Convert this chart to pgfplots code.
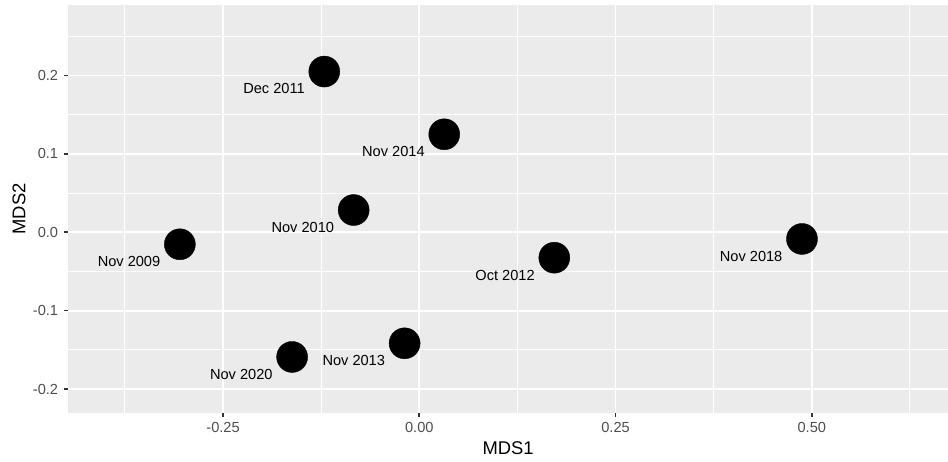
\documentclass[border=0pt]{standalone}
\usepackage{pgfplots}
\pgfplotsset{compat=1.18}
\usepackage{fontspec}
\setmainfont{Liberation Sans}
\definecolor{panel}{HTML}{EBEBEB}
\definecolor{ticklab}{HTML}{4D4D4D}
\definecolor{tickcol}{HTML}{333333}
\begin{document}
\begin{tikzpicture}
\useasboundingbox (0,0) rectangle (948bp,462bp);
\begin{axis}[
  at={(68.3bp,49.3bp)}, anchor=south west,
  scale only axis, width=879.7bp, height=407.7bp,
  xmin=-0.4471, xmax=0.6735, ymin=-0.2301, ymax=0.2899,
  axis background/.style={fill=panel},
  axis line style={draw=none},
  tick pos=left, tick align=outside,
  major tick length=4.5bp, minor tick length=0pt,
  major tick style={draw=tickcol, line width=1.6bp},
  minor tick style={draw=none},
  xtick={-0.25,0,0.25,0.5},
  xticklabels={-0.25,0.00,0.25,0.50},
  minor xtick={-0.375,-0.125,0.125,0.375,0.625},
  ytick={-0.2,-0.1,0,0.1,0.2},
  yticklabels={-0.2,-0.1,0.0,0.1,0.2},
  minor ytick={-0.15,-0.05,0.05,0.15,0.25},
  grid=both,
  major grid style={draw=white, line width=1.8bp},
  minor grid style={draw=white, line width=0.9bp},
  ticklabel style={font=\fontsize{14.6bp}{17bp}\selectfont, text=ticklab, inner sep=0pt},
  xticklabel style={anchor=north, yshift=-5bp},
  yticklabel style={anchor=east, xshift=-5.5bp},
  xlabel={MDS1}, ylabel={MDS2},
  label style={font=\fontsize{18.4bp}{21bp}\selectfont, inner sep=0pt},
  xlabel style={at={(axis description cs:0.5,-0.0873)}, anchor=center},
  ylabel style={at={(axis description cs:-0.0561,0.5)}, anchor=center, rotate=0},
  clip=false,
]
\addplot[only marks, mark=*, mark size=15.5bp,
  mark options={fill=black, draw=black},
  point meta=explicit symbolic,
  nodes near coords,
  nodes near coords style={font=\fontsize{14.6bp}{17bp}\selectfont, text=black,
    anchor=east, inner sep=0pt, xshift=-19.4bp, yshift=-17.4bp},
] table[col sep=comma, meta=label] {
x,y,label
-0.121,0.205,Dec 2011
0.0318,0.125,Nov 2014
-0.0836,0.0284,Nov 2010
-0.305,-0.0153,Nov 2009
-0.162,-0.159,Nov 2020
-0.0187,-0.1416,Nov 2013
0.172,-0.0324,Oct 2012
0.4875,-0.0085,Nov 2018
};
\end{axis}
\end{tikzpicture}
\end{document}
